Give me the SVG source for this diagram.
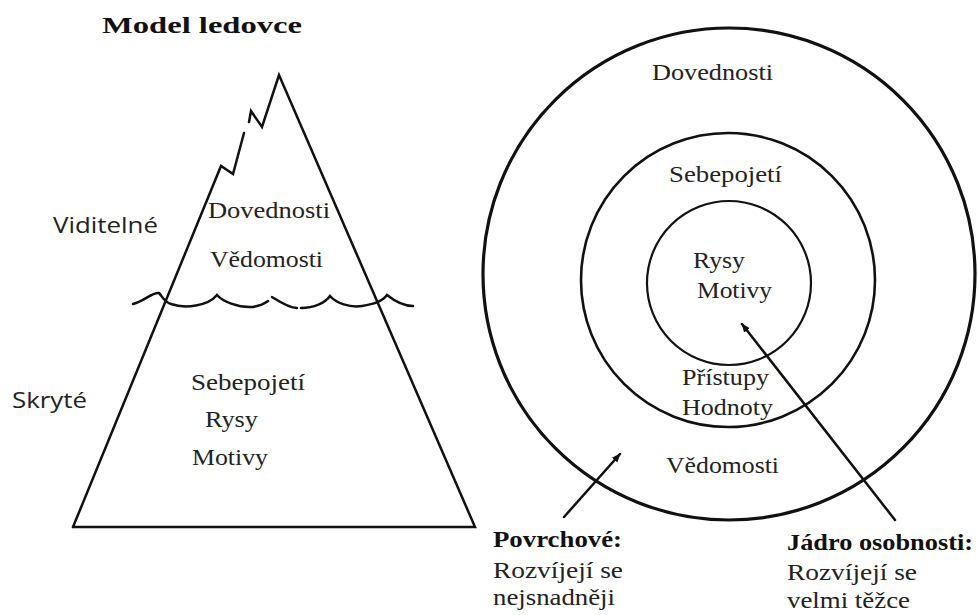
<svg xmlns="http://www.w3.org/2000/svg" width="978" height="615" viewBox="0 0 978 615">
<defs>
<style>
.ln{fill:none;stroke:#111;stroke-width:2.5;stroke-linejoin:miter;stroke-linecap:round}
.c{fill:none;stroke:#111}
.t{font-family:"Liberation Serif","Times New Roman",serif;font-size:24px;fill:#222}
.b{font-family:"Liberation Serif","Times New Roman",serif;font-size:24px;font-weight:bold;fill:#111}
.s{font-family:"Open Sans","Noto Sans","Liberation Sans",sans-serif;font-size:22px;fill:#222}
</style>
<marker id="ah" viewBox="0 0 10 10" refX="9" refY="5" markerWidth="9" markerHeight="9" markerUnits="userSpaceOnUse" orient="auto">
<path d="M0,1 L10,5 L0,9 Z" fill="#111"/>
</marker>
</defs>
<rect width="978" height="615" fill="#fff"/>

<text class="b" x="102" y="33" font-size="28" textLength="200" lengthAdjust="spacingAndGlyphs">Model ledovce</text>

<g id="iceberg">
<path class="ln" d="M73,527 L475,527 L279,75 L262,127 L251,111 L249,122"/>
<path class="ln" d="M244,133 L233,174 L221,166 L73,527"/>
</g>
<g id="water">
<path class="ln" stroke-width="2.2" d="M133,304 C145,301 152,292 159,293 C162,296 164,302 171,304 C185,309 208,306 217,295 C222,301 238,308 253,307 C259,306 264,304 268,301"/>
<path class="ln" stroke-width="2.2" d="M272,297 C280,302 289,308 297,308"/>
<path class="ln" stroke-width="2.2" d="M301,308 C314,308 325,303 330,296 C336,303 350,308 362,306 C373,304 382,302 387,295 C392,299 402,306 413,306"/>
</g>

<g id="iceberg-labels">
<text class="s" x="53" y="233" textLength="105" lengthAdjust="spacingAndGlyphs">Viditelné</text>
<text class="s" x="12" y="408" textLength="75" lengthAdjust="spacingAndGlyphs">Skryté</text>
<text class="t" x="208" y="218" textLength="122" lengthAdjust="spacingAndGlyphs">Dovednosti</text>
<text class="t" x="210" y="267" textLength="113" lengthAdjust="spacingAndGlyphs">Vědomosti</text>
<text class="t" x="191" y="390" textLength="114" lengthAdjust="spacingAndGlyphs">Sebepojetí</text>
<text class="t" x="205" y="427" textLength="53" lengthAdjust="spacingAndGlyphs">Rysy</text>
<text class="t" x="192" y="465" textLength="76" lengthAdjust="spacingAndGlyphs">Motivy</text>
</g>

<g id="outer-ring">
<circle class="c" cx="729" cy="274" r="246" stroke-width="3.2"/>
<text class="t" x="652" y="80" textLength="121" lengthAdjust="spacingAndGlyphs">Dovednosti</text>
<text class="t" x="666" y="473" textLength="113" lengthAdjust="spacingAndGlyphs">Vědomosti</text>
</g>
<g id="middle-ring">
<circle class="c" cx="728" cy="280" r="147" stroke-width="2.6"/>
<text class="t" x="669" y="182" textLength="113" lengthAdjust="spacingAndGlyphs">Sebepojetí</text>
<text class="t" x="682" y="385" textLength="87" lengthAdjust="spacingAndGlyphs">Přístupy</text>
<text class="t" x="682" y="415" textLength="91" lengthAdjust="spacingAndGlyphs">Hodnoty</text>
</g>
<g id="inner-ring">
<circle class="c" cx="729" cy="283" r="82" stroke-width="2.2"/>
<text class="t" x="693" y="268" textLength="52" lengthAdjust="spacingAndGlyphs">Rysy</text>
<text class="t" x="697" y="298" textLength="75" lengthAdjust="spacingAndGlyphs">Motivy</text>
</g>

<g id="connectors">
<line class="ln" x1="564" y1="517" x2="620" y2="454" stroke-width="2.2" marker-end="url(#ah)"/>
<line class="ln" x1="895" y1="520" x2="742" y2="324" stroke-width="2.2" marker-end="url(#ah)"/>
</g>

<g id="povrchove">
<text class="b" x="493" y="547" textLength="129" lengthAdjust="spacingAndGlyphs">Povrchové:</text>
<text class="t" x="493" y="578" textLength="130" lengthAdjust="spacingAndGlyphs">Rozvíjejí se</text>
<text class="t" x="493" y="605" textLength="122" lengthAdjust="spacingAndGlyphs">nejsnadněji</text>
</g>
<g id="jadro">
<text class="b" x="787" y="550" textLength="186" lengthAdjust="spacingAndGlyphs">Jádro osobnosti:</text>
<text class="t" x="787" y="580" textLength="130" lengthAdjust="spacingAndGlyphs">Rozvíjejí se</text>
<text class="t" x="787" y="608" textLength="123" lengthAdjust="spacingAndGlyphs">velmi těžce</text>
</g>
</svg>
